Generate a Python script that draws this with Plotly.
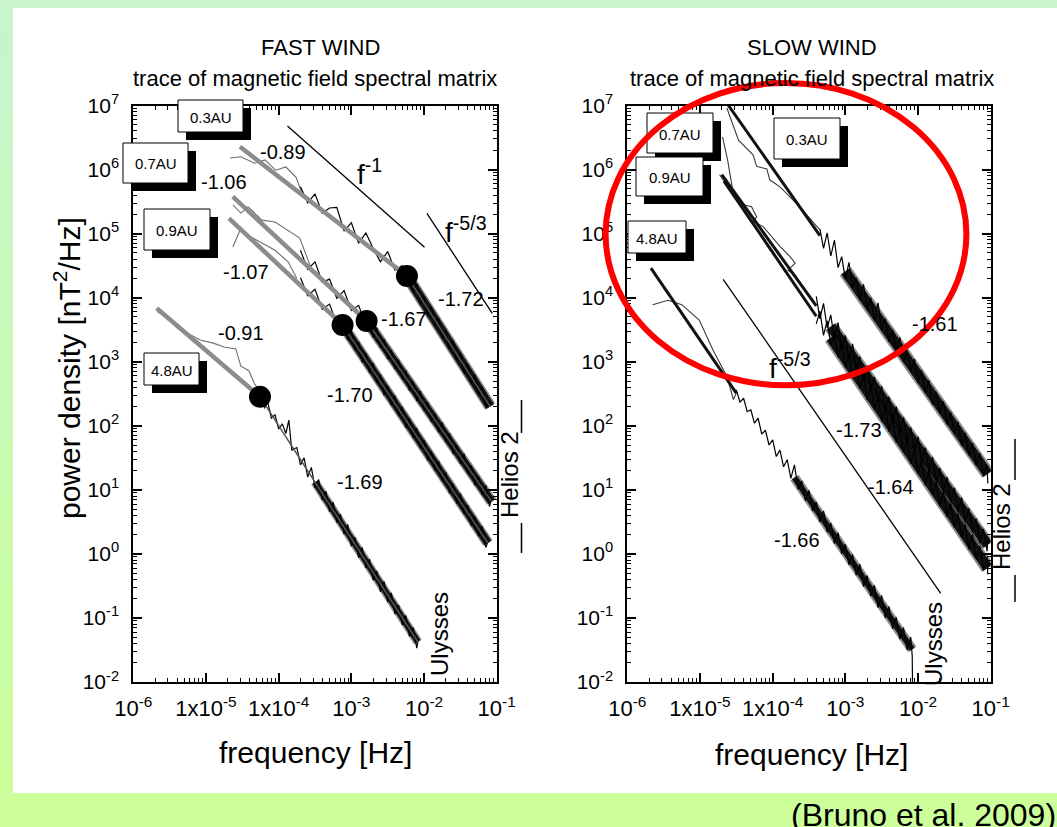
import numpy as np
import plotly.graph_objects as go

W, H = 1057, 827
FONT = "Liberation Sans, Arial, sans-serif"

# ---------------- data: (log10 frequency [Hz], log10 power [nT^2/Hz]) ----------------
x_tick_vals = [1e-6, 1e-5, 1e-4, 1e-3, 1e-2, 1e-1]
x_tick_text = ["10<sup>-6</sup>", "1x10<sup>-5</sup>", "1x10<sup>-4</sup>",
               "10<sup>-3</sup>", "10<sup>-2</sup>", "10<sup>-1</sup>"]
y_tick_vals = [1e-2, 1e-1, 1e0, 1e1, 1e2, 1e3, 1e4, 1e5, 1e6, 1e7]
y_tick_text = ["10<sup>-2</sup>", "10<sup>-1</sup>", "10<sup>0</sup>", "10<sup>1</sup>", "10<sup>2</sup>",
               "10<sup>3</sup>", "10<sup>4</sup>", "10<sup>5</sup>", "10<sup>6</sup>", "10<sup>7</sup>"]

# FAST WIND (Helios 2 at 0.3, 0.7, 0.9 AU; Ulysses at 4.8 AU)
fast_03_fit = [(-4.532, 6.357), (-2.235, 4.338), (-1.09, 2.30)]
fast_07_fit = [(-4.631, 5.576), (-2.790, 3.636), (-1.07, 0.815)]
fast_09_fit = [(-4.684, 5.239), (-3.121, 3.574), (-1.121, 0.170)]
fast_48_fit = [(-5.678, 3.834), (-4.257, 2.454), (-2.084, -1.375)]

fast_03_band = [(-2.235, 4.338), (-1.09, 2.30)]
fast_07_band = [(-2.790, 3.636), (-1.07, 0.815)]
fast_09_band = [(-3.121, 3.574), (-1.121, 0.170)]
fast_48_band = [(-3.50, 1.12), (-2.084, -1.375)]

fast_03_raw = [(-4.67, 6.18), (-4.52, 6.20), (-4.33, 6.10), (-4.19, 6.15), (-4.04, 5.99), (-3.90, 6.04),
               (-3.76, 5.88), (-3.67, 5.60), (-3.60, 5.55)]
fast_07_raw = [(-4.63, 5.45), (-4.52, 5.32), (-4.42, 5.42), (-4.23, 5.21), (-4.05, 5.18), (-3.85, 5.03),
               (-3.71, 4.93), (-3.55, 4.45)]
fast_09_raw = [(-4.63, 4.79), (-4.53, 5.06), (-4.40, 4.96), (-4.23, 4.85), (-4.05, 4.74), (-3.87, 4.56),
               (-3.75, 4.30)]
fast_48_raw = [(-5.67, 3.78), (-5.50, 3.68), (-5.26, 3.45), (-5.08, 3.34), (-4.90, 3.29), (-4.75, 3.23),
               (-4.59, 3.20), (-4.52, 2.93), (-4.41, 2.86), (-4.33, 2.65), (-4.23, 2.51)]

fast_03_noise = [(-3.70, 5.73), (-3.60, 5.48), (-3.50, 5.62), (-3.40, 5.32), (-3.30, 5.40), (-3.20, 5.41),
                 (-3.10, 5.04), (-3.00, 5.17), (-2.90, 4.85), (-2.80, 5.01), (-2.70, 4.77), (-2.60, 4.56),
                 (-2.50, 4.72), (-2.40, 4.43), (-2.30, 4.50), (-2.25, 4.29), (-2.20, 4.40), (-2.15, 4.09),
                 (-2.10, 4.21), (-2.05, 3.89), (-2.00, 4.02), (-1.95, 3.72), (-1.90, 3.86), (-1.85, 3.57),
                 (-1.80, 3.68), (-1.75, 3.36), (-1.70, 3.49), (-1.65, 3.19), (-1.60, 3.33), (-1.55, 3.02),
                 (-1.50, 3.14), (-1.45, 2.82), (-1.40, 2.96), (-1.35, 2.66), (-1.30, 2.80), (-1.25, 2.49),
                 (-1.20, 2.61), (-1.15, 2.29), (-1.10, 2.37)]
fast_07_noise = [(-3.70, 4.74), (-3.60, 4.44), (-3.50, 4.56), (-3.40, 4.24), (-3.30, 4.29), (-3.20, 3.99),
                 (-3.10, 4.11), (-3.00, 3.80), (-2.90, 3.88), (-2.80, 3.58), (-2.75, 3.67), (-2.70, 3.38),
                 (-2.65, 3.53), (-2.60, 3.22), (-2.55, 3.35), (-2.50, 3.04), (-2.45, 3.18), (-2.40, 2.89),
                 (-2.35, 3.03), (-2.30, 2.73), (-2.25, 2.86), (-2.20, 2.55), (-2.15, 2.69), (-2.10, 2.39),
                 (-2.05, 2.54), (-2.00, 2.24), (-1.95, 2.37), (-1.90, 2.06), (-1.85, 2.19), (-1.80, 1.90),
                 (-1.75, 2.05), (-1.70, 1.75), (-1.65, 1.88), (-1.60, 1.56), (-1.55, 1.70), (-1.50, 1.41),
                 (-1.45, 1.56), (-1.40, 1.26), (-1.35, 1.38), (-1.30, 1.07), (-1.25, 1.21), (-1.20, 0.92),
                 (-1.15, 1.07), (-1.10, 0.74), (-1.07, 0.85)]
fast_09_noise = [(-3.70, 4.31), (-3.60, 4.03), (-3.50, 4.13), (-3.40, 3.82), (-3.30, 3.90), (-3.20, 3.59),
                 (-3.12, 3.65), (-3.05, 3.34), (-3.00, 3.49), (-2.95, 3.18), (-2.90, 3.31), (-2.85, 2.99),
                 (-2.80, 3.13), (-2.75, 2.83), (-2.70, 2.98), (-2.65, 2.67), (-2.60, 2.80), (-2.55, 2.48),
                 (-2.50, 2.62), (-2.45, 2.32), (-2.40, 2.47), (-2.35, 2.16), (-2.30, 2.29), (-2.25, 1.97),
                 (-2.20, 2.11), (-2.15, 1.81), (-2.10, 1.96), (-2.05, 1.65), (-2.00, 1.78), (-1.95, 1.46),
                 (-1.90, 1.60), (-1.85, 1.30), (-1.80, 1.45), (-1.75, 1.14), (-1.70, 1.27), (-1.65, 0.95),
                 (-1.60, 1.09), (-1.55, 0.79), (-1.50, 0.94), (-1.45, 0.63), (-1.40, 0.76), (-1.35, 0.44),
                 (-1.30, 0.58), (-1.25, 0.28), (-1.20, 0.43), (-1.15, 0.10), (-1.12, 0.19)]
fast_48_noise = [(-4.20, 2.27), (-4.15, 2.37), (-4.10, 2.12), (-4.05, 2.17), (-4.00, 1.95), (-3.95, 2.03),
                 (-3.90, 1.88), (-3.86, 2.09), (-3.82, 1.62), (-3.75, 1.66), (-3.70, 1.39), (-3.65, 1.50),
                 (-3.60, 1.20), (-3.55, 1.35), (-3.50, 1.03), (-3.45, 1.16), (-3.40, 0.84), (-3.35, 0.98),
                 (-3.30, 0.66), (-3.25, 0.81), (-3.20, 0.49), (-3.15, 0.62), (-3.10, 0.31), (-3.05, 0.46),
                 (-3.00, 0.12), (-2.95, 0.26), (-2.90, -0.06), (-2.85, 0.10), (-2.80, -0.22), (-2.75, -0.08),
                 (-2.70, -0.41), (-2.65, -0.27), (-2.60, -0.59), (-2.55, -0.43), (-2.50, -0.75), (-2.45, -0.61),
                 (-2.40, -0.94), (-2.35, -0.80), (-2.30, -1.11), (-2.25, -0.96), (-2.20, -1.29), (-2.15, -1.15),
                 (-2.10, -1.47), (-2.08, -1.34)]

fast_f1 = [(-3.879, 6.680), (-1.993, 4.786)]
fast_f53 = [(-1.960, 5.317), (-1.061, 3.756)]

# SLOW WIND
slow_03_line = [(-4.62, 7.02), (-3.35, 4.97)]
slow_07_line = [(-4.70, 5.92), (-3.40, 3.87)]
slow_09_line = [(-4.67, 5.82), (-3.40, 3.71)]
slow_48_line = [(-5.675, 4.46), (-4.50, 2.51)]

slow_03_band = [(-3.00, 4.41), (-1.04, 1.25)]
slow_07_band = [(-3.20, 3.55), (-1.04, 0.14)]
slow_09_band = [(-3.20, 3.375), (-1.04, -0.22)]
slow_48_band = [(-3.70, 1.19), (-2.08, -1.49)]

slow_03_raw = [(-4.63, 6.96), (-4.54, 6.67), (-4.47, 6.46), (-4.27, 6.23), (-4.22, 6.05), (-4.08, 6.01),
               (-4.04, 5.84), (-3.90, 5.73), (-3.72, 5.53), (-3.63, 5.42), (-3.35, 5.06)]
slow_07_raw = [(-4.69, 6.51), (-4.62, 6.15), (-4.55, 5.68)]
slow_09_raw = [(-4.73, 5.92), (-4.59, 5.68), (-4.40, 5.45), (-4.29, 5.42), (-4.22, 5.26), (-4.27, 5.19),
               (-4.13, 5.11), (-3.90, 4.80), (-3.76, 4.64), (-3.69, 4.54), (-3.79, 4.43), (-3.67, 4.33)]
slow_48_raw = [(-5.65, 3.89), (-5.44, 3.96), (-5.25, 3.89), (-5.01, 3.65), (-4.82, 3.18), (-4.63, 2.77),
               (-4.54, 2.41), (-4.50, 2.51)]

slow_03_noise = [(-3.35, 5.07), (-3.30, 4.77), (-3.25, 5.01), (-3.20, 4.65), (-3.15, 4.90), (-3.10, 4.47),
                 (-3.05, 4.64), (-3.00, 4.29), (-2.95, 4.55), (-2.90, 4.15), (-2.85, 4.31), (-2.80, 3.96),
                 (-2.75, 4.21), (-2.70, 3.82), (-2.65, 4.00), (-2.60, 3.64), (-2.55, 3.92), (-2.50, 3.50),
                 (-2.45, 3.67), (-2.40, 3.31), (-2.35, 3.50), (-2.30, 3.16), (-2.25, 3.38), (-2.20, 2.99),
                 (-2.15, 3.18), (-2.10, 2.84), (-2.05, 3.04), (-2.00, 2.67), (-1.95, 2.86), (-1.90, 2.52),
                 (-1.85, 2.71), (-1.80, 2.33), (-1.75, 2.53), (-1.70, 2.19), (-1.65, 2.38), (-1.60, 2.02),
                 (-1.55, 2.21), (-1.50, 1.87), (-1.45, 2.06), (-1.40, 1.69), (-1.35, 1.89), (-1.30, 1.54),
                 (-1.25, 1.73), (-1.20, 1.38), (-1.15, 1.57), (-1.10, 1.21), (-1.05, 1.39), (-1.04, 1.10)]
slow_07_noise = [(-3.40, 4.02), (-3.35, 3.67), (-3.30, 3.91), (-3.25, 3.53), (-3.20, 3.73), (-3.15, 3.34),
                 (-3.10, 3.61), (-3.05, 3.19), (-3.00, 3.41), (-2.95, 3.02), (-2.90, 3.28), (-2.85, 2.88),
                 (-2.80, 3.08), (-2.75, 2.70), (-2.70, 2.94), (-2.65, 2.56), (-2.60, 2.76), (-2.55, 2.39),
                 (-2.50, 2.62), (-2.45, 2.24), (-2.40, 2.45), (-2.35, 2.07), (-2.30, 2.30), (-2.25, 1.92),
                 (-2.20, 2.13), (-2.15, 1.75), (-2.10, 1.97), (-2.05, 1.61), (-2.00, 1.83), (-1.95, 1.44),
                 (-1.90, 1.66), (-1.85, 1.29), (-1.80, 1.51), (-1.75, 1.12), (-1.70, 1.34), (-1.65, 0.97),
                 (-1.60, 1.20), (-1.55, 0.81), (-1.50, 1.03), (-1.45, 0.66), (-1.40, 0.88), (-1.35, 0.49),
                 (-1.30, 0.71), (-1.25, 0.34), (-1.20, 0.55), (-1.15, 0.17), (-1.10, 0.39), (-1.05, 0.04),
                 (-1.04, 0.24)]
slow_09_noise = [(-3.40, 3.59), (-3.35, 3.79), (-3.30, 3.41), (-3.25, 3.64), (-3.20, 3.26), (-3.15, 3.44),
                 (-3.10, 3.07), (-3.05, 3.30), (-3.00, 2.91), (-2.95, 3.12), (-2.90, 2.74), (-2.85, 2.96),
                 (-2.80, 2.58), (-2.75, 2.79), (-2.70, 2.40), (-2.65, 2.63), (-2.60, 2.25), (-2.55, 2.45),
                 (-2.50, 2.07), (-2.45, 2.30), (-2.40, 1.91), (-2.35, 2.12), (-2.30, 1.74), (-2.25, 1.96),
                 (-2.20, 1.58), (-2.15, 1.79), (-2.10, 1.41), (-2.05, 1.63), (-2.00, 1.25), (-1.95, 1.46),
                 (-1.90, 1.07), (-1.85, 1.30), (-1.80, 0.92), (-1.75, 1.12), (-1.70, 0.74), (-1.65, 0.97),
                 (-1.60, 0.58), (-1.55, 0.79), (-1.50, 0.41), (-1.45, 0.63), (-1.40, 0.25), (-1.35, 0.46),
                 (-1.30, 0.07), (-1.25, 0.30), (-1.20, -0.08), (-1.15, 0.12), (-1.10, -0.26), (-1.05, -0.05),
                 (-1.04, -0.32)]
slow_48_noise = [(-4.50, 2.56), (-4.45, 2.37), (-4.40, 2.43), (-4.35, 2.22), (-4.30, 2.25), (-4.25, 2.04),
                 (-4.20, 2.12), (-4.15, 1.87), (-4.10, 1.93), (-4.05, 1.70), (-4.00, 1.78), (-3.95, 1.52),
                 (-3.90, 1.62), (-3.85, 1.36), (-3.80, 1.47), (-3.75, 1.18), (-3.70, 1.39), (-3.65, 1.01),
                 (-3.60, 1.14), (-3.55, 0.83), (-3.50, 0.99), (-3.45, 0.67), (-3.40, 0.81), (-3.35, 0.50),
                 (-3.30, 0.67), (-3.25, 0.34), (-3.20, 0.48), (-3.15, 0.16), (-3.10, 0.33), (-3.05, 0.00),
                 (-3.00, 0.15), (-2.95, -0.17), (-2.90, -0.01), (-2.85, -0.33), (-2.80, -0.16), (-2.75, -0.51),
                 (-2.70, -0.34), (-2.65, -0.66), (-2.60, -0.49), (-2.55, -0.84), (-2.50, -0.65), (-2.45, -1.00),
                 (-2.40, -0.82), (-2.35, -1.17), (-2.30, -0.99), (-2.25, -1.33), (-2.20, -1.15), (-2.15, -1.50),
                 (-2.10, -1.30), (-2.08, -1.59), (-2.075, -2.10)]

slow_f53 = [(-4.681, 4.287), (-1.688, -0.615)]

fast_slopes = ["-0.89", "-1.06", "-1.07", "-0.91", "-1.72", "-1.67", "-1.70", "-1.69"]
slow_slopes = ["-1.61", "-1.73", "-1.64", "-1.66"]
distances = ["0.3AU", "0.7AU", "0.9AU", "4.8AU"]

# ---------------- figure ----------------
fig = go.Figure()


def xy(pairs):
    a = np.array(pairs, dtype=float)
    return np.power(10.0, a[:, 0]), np.power(10.0, a[:, 1])


def line(pairs, ax, color="black", width=1.0):
    x, y = xy(pairs)
    fig.add_trace(go.Scatter(x=x, y=y, mode="lines", xaxis="x" + ax, yaxis="y" + ax,
                             line=dict(color=color, width=width), hoverinfo="skip", showlegend=False))


def dot(pair, ax):
    x, y = xy([pair])
    fig.add_trace(go.Scatter(x=x, y=y, mode="markers", xaxis="x" + ax, yaxis="y" + ax,
                             marker=dict(color="black", size=22, line=dict(width=0)),
                             hoverinfo="skip", showlegend=False))


HALO = "rgba(0,0,0,0.45)"
GRAY = "#8c8c8c"
# --- fast panel (axis suffix "") ---
line(fast_f1, "", width=1.3)
line(fast_f53, "", width=1.3)
for raw in (fast_03_raw, fast_07_raw, fast_09_raw, fast_48_raw):
    line(raw, "", color="#6e6e6e", width=1.1)
for band, w in ((fast_03_band, 9), (fast_07_band, 8), (fast_09_band, 8), (fast_48_band, 6)):
    line(band, "", color=HALO, width=w + 3)
    line(band, "", color="#111111", width=w)
for nz in (fast_03_noise, fast_07_noise, fast_09_noise, fast_48_noise):
    line(nz, "", color="black", width=1.2)
for fit in (fast_03_fit, fast_07_fit, fast_09_fit, fast_48_fit):
    line(fit[:2], "", color=GRAY, width=4.5)
    line(fit[1:], "", color="#555555", width=1.5)
for fit in (fast_03_fit, fast_07_fit, fast_09_fit, fast_48_fit):
    dot(fit[1], "")

# --- slow panel (axis suffix "2") ---
line(slow_f53, "2", width=1.3)
for raw in (slow_03_raw, slow_07_raw, slow_09_raw, slow_48_raw):
    line(raw, "2", color="#3a3a3a", width=1.1)
for ln in (slow_03_line, slow_07_line, slow_09_line, slow_48_line):
    line(ln, "2", color="#111111", width=3)
for band, w in ((slow_03_band, 10), (slow_07_band, 10), (slow_09_band, 10), (slow_48_band, 6)):
    line(band, "2", color=HALO, width=w + 4)
    line(band, "2", color="#111111", width=w)
for nz in (slow_03_noise, slow_07_noise, slow_09_noise, slow_48_noise):
    line(nz, "2", color="black", width=1.2)

# ---------------- layout ----------------
minor_x = [k * 10.0 ** e for e in range(-6, -1) for k in range(2, 10)]
minor_y = [k * 10.0 ** e for e in range(-2, 7) for k in range(2, 10)]


def px(x):
    return x / W


def py(y):
    return 1 - y / H


def xaxis(dom):
    return dict(type="log", range=[-6, -1], domain=dom, tickmode="array", tickvals=x_tick_vals,
                ticktext=x_tick_text, ticks="inside", ticklen=9, tickwidth=1.5, tickcolor="black",
                showline=True, linewidth=2, linecolor="black", mirror="allticks", showgrid=False,
                zeroline=False, tickfont=dict(family=FONT, size=22, color="black"), ticklabelstandoff=6,
                minor=dict(tickmode="array", tickvals=minor_x, ticks="inside", ticklen=4, tickwidth=1,
                           tickcolor="black", showgrid=False))


def yaxis(dom, anchor):
    return dict(type="log", range=[-2, 7], domain=dom, anchor=anchor, tickmode="array", tickvals=y_tick_vals,
                ticktext=y_tick_text, ticks="inside", ticklen=9, tickwidth=1.5, tickcolor="black",
                showline=True, linewidth=2, linecolor="black", mirror="allticks", showgrid=False,
                zeroline=False, tickfont=dict(family=FONT, size=21, color="black"), ticklabelstandoff=8,
                minor=dict(tickmode="array", tickvals=minor_y, ticks="inside", ticklen=4, tickwidth=1,
                           tickcolor="black", showgrid=False))


ydom = [py(682), py(105.5)]
xa1 = xaxis([px(133.3), px(496.7)]); xa1["anchor"] = "y"
xa2 = xaxis([px(627.3), px(990.7)]); xa2["anchor"] = "y2"

shapes = []
# green gradient background
N = 30
c0, c1 = (200, 244, 206), (204, 255, 153)
for i in range(N):
    t = i / (N - 1)
    col = "rgb(%d,%d,%d)" % tuple(round(a + (b - a) * t) for a, b in zip(c0, c1))
    shapes.append(dict(type="rect", xref="paper", yref="paper", x0=0, x1=1,
                       y0=py((i + 1) * H / N + 1), y1=py(i * H / N), fillcolor=col, line=dict(width=0),
                       layer="below"))
shapes.append(dict(type="rect", xref="paper", yref="paper", x0=px(13), x1=px(1057), y0=py(793), y1=py(8),
                   fillcolor="white", line=dict(width=0), layer="below"))

# label boxes with drop shadows (pixel positions)
boxes = [("0.3AU", 178, 100, 243, 132), ("0.7AU", 123, 143, 188, 183), ("0.9AU", 144, 209, 210, 250),
         ("4.8AU", 144, 353, 199, 385),
         ("0.7AU", 647, 113, 713, 153), ("0.9AU", 636, 157, 703, 196), ("0.3AU", 774, 118, 840, 159),
         ("4.8AU", 628, 221, 686, 253)]
annotations = []


def ann(text, x, y, size, angle=0, xanchor="center", yanchor="middle"):
    annotations.append(dict(text=text, x=px(x), y=py(y), xref="paper", yref="paper", showarrow=False,
                            font=dict(family=FONT, size=size, color="black"), textangle=angle,
                            xanchor=xanchor, yanchor=yanchor))


for lab, x0, y0, x1, y1 in boxes:
    shapes.append(dict(type="rect", xref="paper", yref="paper", x0=px(x0 + 8), x1=px(x1 + 8),
                       y0=py(y1 + 8), y1=py(y0 + 8), fillcolor="black", line=dict(width=0)))
    shapes.append(dict(type="rect", xref="paper", yref="paper", x0=px(x0), x1=px(x1),
                       y0=py(y1), y1=py(y0), fillcolor="white", line=dict(color="black", width=1)))
    ann(lab, (x0 + x1) / 2, (y0 + y1) / 2 + 1, 15)

# Helios 2 bracket lines
for x, ya, yb in ((521.5, 400, 433), (521.5, 523, 553), (1015, 439, 480), (1015, 575, 602)):
    shapes.append(dict(type="line", xref="paper", yref="paper", x0=px(x), x1=px(x), y0=py(ya), y1=py(yb),
                       line=dict(color="black", width=1.5)))

# red ellipse
shapes.append(dict(type="circle", xref="paper", yref="paper", x0=px(605.6), x1=px(966.4),
                   y0=py(385.3), y1=py(83), line=dict(color="#ff0000", width=6)))

# titles
ann("FAST WIND", 320, 47, 22)
ann("trace of magnetic field spectral matrix", 315, 78, 22)
ann("SLOW WIND", 812, 47, 22)
ann("trace of magnetic field spectral matrix", 812, 78, 22)
ann("power density [nT<sup>2</sup>/Hz]", 67, 368, 30, angle=-90)
ann("frequency [Hz]", 315, 752, 30)
ann("frequency [Hz]", 811, 754, 30)

# slope labels
for txt, (x, y) in zip(fast_slopes, [(283, 152), (224, 182), (246, 272), (241, 333), (461, 299), (404, 319),
                                     (350, 395), (360, 482)]):
    ann(txt, x, y, 20)
for txt, (x, y) in zip(slow_slopes, [(935, 324), (859, 430), (891, 487), (797, 540)]):
    ann(txt, x, y, 20)

ann("f<sup>-1</sup>", 369, 172, 28)
ann("f<sup>-5/3</sup>", 466, 230, 28)
ann("f<sup>-5/3</sup>", 790, 366, 28)

ann("Helios 2", 509, 475, 24, angle=-90)
ann("Ulysses", 439, 634, 24, angle=-90)
ann("Helios 2", 1001, 527, 24, angle=-90)
ann("Ulysses", 933, 644, 24, angle=-90)

ann("(Bruno et al. 2009)", 1058, 795, 32, xanchor="right", yanchor="top")

fig.update_layout(
    width=W, height=H, margin=dict(l=0, r=0, t=0, b=0, pad=0, autoexpand=False),
    paper_bgcolor="rgb(202,250,180)", plot_bgcolor="white",
    font=dict(family=FONT, color="black"),
    xaxis=xa1, yaxis=yaxis(ydom, "x"),
    xaxis2=xa2, yaxis2=yaxis(ydom, "x2"),
    shapes=shapes, annotations=annotations, showlegend=False,
)

fig.write_html("out.html")
